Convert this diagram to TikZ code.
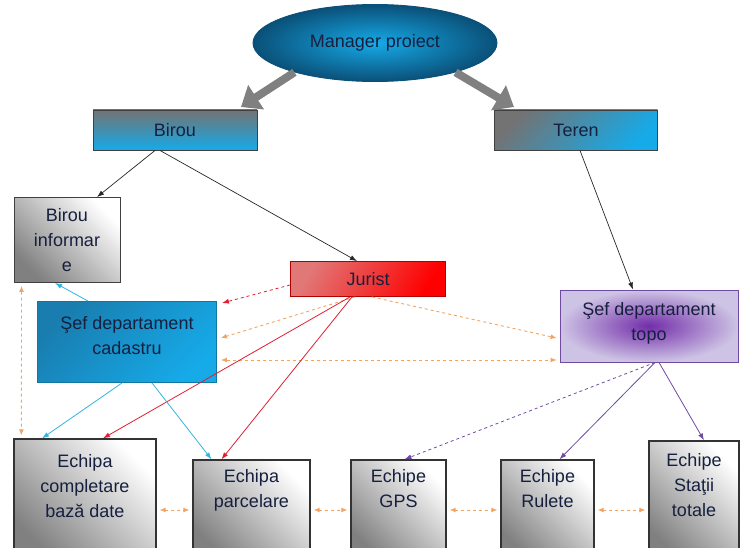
\documentclass[tikz,border=0pt]{standalone}
\usepackage{fontspec}
\setmainfont{Liberation Sans}
\usetikzlibrary{shapes.geometric,arrows.meta}
\definecolor{txtblue}{RGB}{22,32,62}
\definecolor{skyblue}{RGB}{22,170,232}
\definecolor{darkteal}{RGB}{10,80,120}
\definecolor{lineorange}{RGB}{240,165,100}
\definecolor{linecyan}{RGB}{50,180,225}
\definecolor{linered}{RGB}{225,30,50}
\definecolor{linepurple}{RGB}{110,75,160}
\begin{document}
\begin{tikzpicture}
		[x=1pt,y=-1pt,
		mynode/.style={draw=black!75,line width=0.9pt,inner sep=2pt,align=center,text=txtblue,font=\fontsize{18}{25}\selectfont},
		teamnode/.style={mynode,draw=black!80,line width=1.3pt,top color=white,bottom color=black!50,shading angle=-45},
		blackarrow/.style={draw=black!85,line width=0.7pt,-{Latex[length=7pt,width=5pt]}},
		cyanarrow/.style={draw=linecyan,line width=0.8pt,-{Latex[length=7pt,width=5pt]}},
		redarrow/.style={draw=linered,line width=0.8pt,-{Latex[length=7pt,width=5pt]}},
		purplearrow/.style={draw=linepurple,line width=0.8pt,-{Latex[length=7pt,width=5pt]}},
		orangearrow/.style={draw=lineorange,line width=0.9pt,dashed,-{Latex[length=6pt,width=5pt]}},
		orangelink/.style={draw=lineorange,line width=0.9pt,dashed,{Latex[length=6pt,width=5pt]}-{Latex[length=6pt,width=5pt]}},
		bigarrow/.style={draw=black!50,line width=8pt,-{Triangle[length=18pt,width=28pt]}}]
		\useasboundingbox (0,0) rectangle (741,548);
		\clip (0,0) rectangle (741,548);
		\node[mynode,name=mgr,ellipse,minimum width=244pt,minimum height=77pt,draw=darkteal,inner color=skyblue,outer color=darkteal] at (375,43) {Manager proiect};
		\node[mynode,name=birou,minimum width=164pt,minimum height=40pt,top color=black!55,bottom color=skyblue] at (175,130) {Birou};
		\node[mynode,name=teren,minimum width=163pt,minimum height=40pt,top color=black!55,bottom color=skyblue,shading angle=45] at (576,130) {Teren};
		\node[mynode,name=info,minimum width=106pt,minimum height=85pt,top color=white,bottom color=black!50,shading angle=-45] at (67,240) {Birou\\informar\\e};
		\node[mynode,name=jurist,draw=red!70!black,minimum width=155pt,minimum height=35pt,left color={rgb,255:red,225;green,120;blue,120},right color=red,shading angle=60] at (368,279) {Jurist};
		\node[mynode,name=cad,draw=skyblue!70!black,minimum width=179pt,minimum height=81pt,text depth=14pt,top color=skyblue,bottom color={rgb,255:red,25;green,125;blue,175},shading angle=-135] at (127,342) {Şef departament\\cadastru};
		\node[mynode,name=topo,draw=linepurple,minimum width=178pt,minimum height=72pt,text depth=10pt,inner color={rgb,255:red,115;green,45;blue,170},outer color={rgb,255:red,205;green,195;blue,228}] at (649,326) {Şef departament\\topo};
		\node[teamnode,name=ech1,minimum width=142pt,minimum height=121pt,text depth=27pt] at (85,499.5) {Echipa\\completare\\bază date};
		\node[teamnode,name=ech2,minimum width=117pt,minimum height=100pt,text depth=44pt] at (251.5,510) {Echipa\\parcelare};
		\node[teamnode,name=gps,minimum width=95pt,minimum height=100pt,text depth=44pt] at (398.5,510) {Echipe\\GPS};
		\node[teamnode,name=rul,minimum width=93pt,minimum height=100pt,text depth=44pt] at (547.5,510) {Echipe\\Rulete};
		\node[teamnode,name=st,minimum width=90pt,minimum height=119pt,text depth=31pt] at (694,500.5) {Echipe\\Staţii\\totale};
		\coordinate (lt) at (241,107);
		\coordinate (rt) at (514,107);
		\draw[bigarrow] (mgr.200) -- (lt);
		\draw[bigarrow] (mgr.340) -- (rt);
		\draw[blackarrow] ([xshift=-20pt]birou.south) -- ([xshift=30pt]info.north);
		\draw[blackarrow] ([xshift=-15pt]birou.south) -- ([xshift=-11pt]jurist.north);
		\draw[blackarrow] ([xshift=4pt]teren.south) -- ([xshift=-16pt]topo.north);
		\draw[redarrow,dashed] ([yshift=-6pt]jurist.west) -- ([xshift=5pt,yshift=-2pt]cad.north east);
		\draw[orangearrow] ([xshift=-13pt]jurist.south) -- ([xshift=4pt,yshift=4pt]cad.east);
		\draw[orangearrow] ([xshift=4pt]jurist.south) -- ([xshift=-3pt,yshift=-12pt]topo.west);
		\draw[orangelink] ([xshift=4pt,yshift=-18pt]cad.east) -- ([xshift=-3pt,yshift=-34pt]topo.west);
		\draw[redarrow] ([xshift=-18pt]jurist.south) -- ([xshift=18pt]ech1.north);
		\draw[redarrow] ([xshift=-16pt]jurist.south) -- ([xshift=-30pt]ech2.north);
		\draw[cyanarrow] ([xshift=-39pt]cad.north) -- ([xshift=-12pt]info.south);
		\draw[cyanarrow] ([xshift=-5pt]cad.south) -- ([xshift=-43pt]ech1.north);
		\draw[cyanarrow] ([xshift=25pt]cad.south) -- ([xshift=-40pt]ech2.north);
		\draw[orangelink] ([xshift=8pt,yshift=-3pt]info.south west) -- ([xshift=8pt,yshift=3pt]ech1.north west);
		\draw[purplearrow,dashed] ([xshift=6pt]topo.south) -- ([xshift=6pt]gps.north);
		\draw[purplearrow] ([xshift=6pt]topo.south) -- ([xshift=12pt]rul.north);
		\draw[purplearrow] ([xshift=10pt]topo.south) -- ([xshift=10pt]st.north);
		\draw[orangelink,shorten <=3pt,shorten >=3pt] (ech1.east |- ech2.west) -- (ech2.west);
		\foreach \a/\b in {ech2/gps,gps/rul}
		{
			\draw[orangelink,shorten <=3pt,shorten >=3pt] (\a.east) -- (\b.west);
		}
		\draw[orangelink,shorten <=3pt,shorten >=3pt] (rul.east) -- (st.west |- rul.east);
	\end{tikzpicture}
\end{document}
